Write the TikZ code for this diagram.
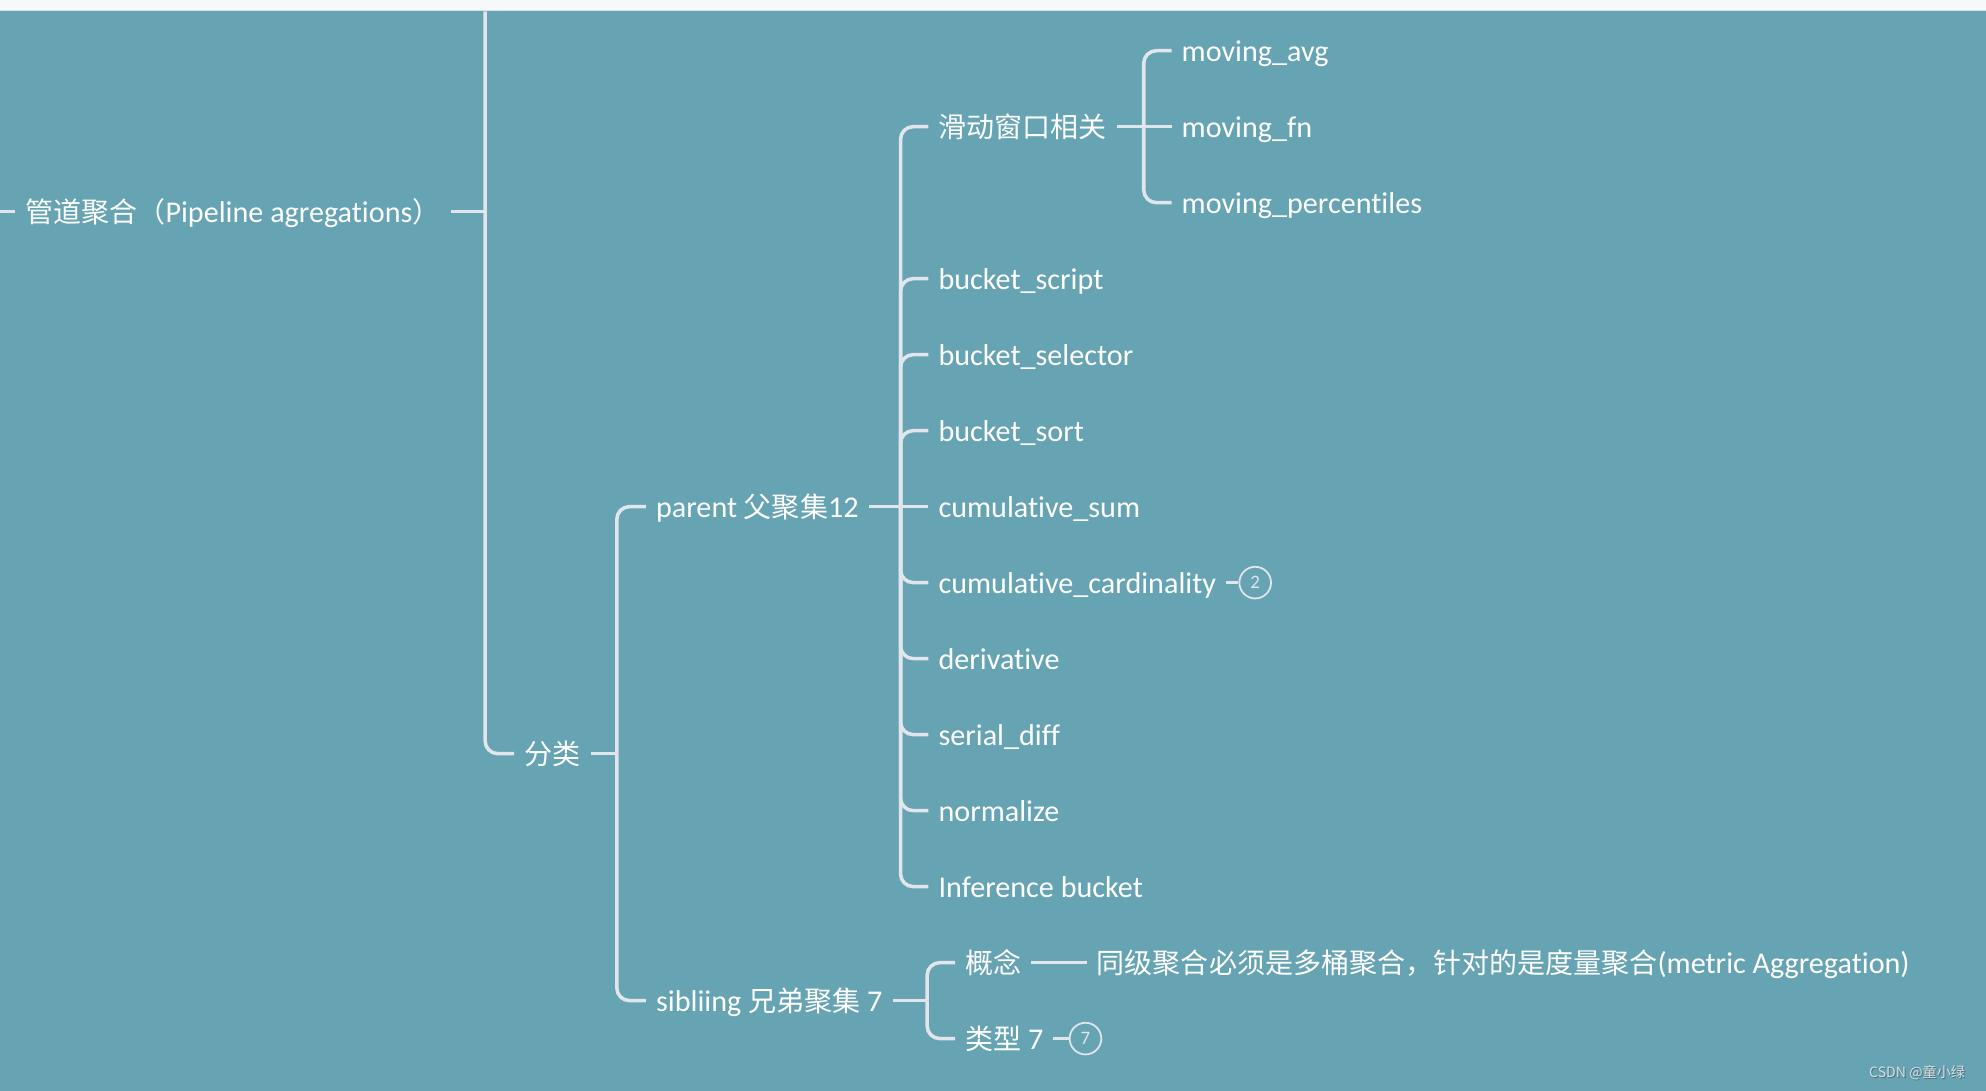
\documentclass[tikz,border=0pt]{standalone}
\usepackage{fontspec}
\setmainfont{Carlito}[Ligatures=NoCommon]
\newfontfamily\cjk[Scale=0.93]{Noto Sans CJK SC}
\definecolor{bg}{HTML}{66A3B3}
\definecolor{ln}{HTML}{E1E5EC}
\definecolor{topbar}{HTML}{F7F8F9}
\definecolor{topline}{HTML}{DADDE2}
\definecolor{wm}{HTML}{D9DFE3}
\definecolor{wmshadow}{HTML}{4A6E78}
\begin{document}
\begin{tikzpicture}[x=1pt,y=-1pt,
  lbl/.style={anchor=west, inner xsep=8pt, inner ysep=0pt, outer sep=0pt, text=white,
    font=\fontsize{23.8}{28}\selectfont, text height=22pt, text depth=5.2pt},
  conn/.style={draw=ln, line width=2.8pt},
  br/.style={conn, rounded corners=10pt},
  badge/.style={circle, draw=ln, line width=1.4pt, minimum size=25pt, inner sep=0pt,
    text=ln, font=\fontsize{15}{15}\selectfont}]
\useasboundingbox (0,0) rectangle (1568,861);
\fill[bg] (-6,-6) rectangle (1574,867);
\fill[topbar] (-6,-6) rectangle (1574,8.5);
\draw[topline, line width=1pt] (-6,8.5) -- (1574,8.5);

% root
\node[lbl] (root) at (12,167) {{\cjk 管道聚合（}Pipeline agregations{\cjk ）}};
\coordinate (rin) at (-2,167);
\draw[conn] (rin) -- (root.west);
\coordinate (J0) at (383,167);
\coordinate (top0) at (383,9);
\draw[conn] (root.east) -- (J0);

% level 1
\node[lbl] (fenlei) at (406,595) {\cjk 分类};
\draw[br] (top0) |- (fenlei.west);
\coordinate (J1) at (487,595);
\draw[conn] (fenlei.east) -- (J1);

% level 2
\node[lbl] (parent) at (510,400) {parent {\cjk 父聚集}12};
\node[lbl] (sib) at (510,790) {sibliing {\cjk 兄弟聚集} 7};
\draw[br] (J1) |- (parent.west);
\draw[br] (J1) |- (sib.west);

% parent children
\coordinate (J2) at (711,400);
\draw[conn] (parent.east) -- (J2);
\node[lbl] (slide) at (733,100) {\cjk 滑动窗口相关};
\node[lbl] (bscript) at (733,220) {bucket\_script};
\node[lbl] (bselector) at (733,280) {bucket\_selector};
\node[lbl] (bsort) at (733,340) {bucket\_sort};
\node[lbl] (csum) at (733,400) {cumulative\_sum};
\node[lbl] (ccard) at (733,460) {cumulative\_cardinality};
\node[lbl] (deriv) at (733,520) {derivative};
\node[lbl] (sdiff) at (733,580) {serial\_diff};
\node[lbl] (norm) at (733,640) {normalize};
\node[lbl] (infer) at (733,700) {Inference bucket};
\foreach \c in {slide,bscript,bselector,bsort,ccard,deriv,sdiff,norm,infer}
  \draw[br] (J2) |- (\c.west);
\draw[conn] (J2) -- (csum.west);

% badge 2
\node[badge] (b2) at (991,460) {2};
\draw[conn] (ccard.east) -- (b2.west);

% sliding window children
\coordinate (J3) at (903,100);
\draw[conn] (slide.east) -- (J3);
\node[lbl] (mavg) at (925,40) {moving\_avg};
\node[lbl] (mfn) at (925,100) {moving\_fn};
\node[lbl] (mpct) at (925,160) {moving\_percentiles};
\draw[br] (J3) |- (mavg.west);
\draw[br] (J3) |- (mpct.west);
\draw[conn] (J3) -- (mfn.west);

% sibling children
\coordinate (J4) at (732,790);
\draw[conn] (sib.east) -- (J4);
\node[lbl] (concept) at (754,760) {\cjk 概念};
\node[lbl] (types) at (754,820) {{\cjk 类型} 7};
\draw[br] (J4) |- (concept.west);
\draw[br] (J4) |- (types.west);

\node[lbl] (def) at (858,760) {{\cjk 同级聚合必须是多桶聚合，针对的是度量聚合}(metric Aggregation)};
\draw[conn] (concept.east) -- (def.west);

\node[badge] (b7) at (857,820) {7};
\draw[conn] (types.east) -- (b7.west);

% watermark
\node[text=wmshadow, font=\cjk\fontsize{12}{12}\selectfont, anchor=east] (wms) at (1555.8,847.8) {CSDN @童小绿};
\node[text=wm, font=\cjk\fontsize{12}{12}\selectfont, anchor=east] (wmk) at (1555,847) {CSDN @童小绿};
\end{tikzpicture}
\end{document}
